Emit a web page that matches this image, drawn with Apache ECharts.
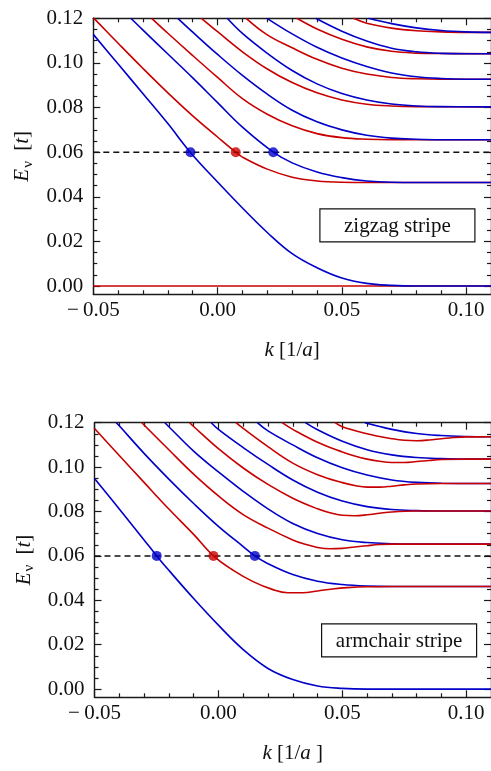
<!DOCTYPE html>
<html><head><meta charset="utf-8">
<script src="https://cdn.jsdelivr.net/npm/echarts@6/dist/echarts.min.js"></script>
<style>html,body{margin:0;padding:0;background:#fff}#c{width:491px;height:771px}</style>
</head><body><div id="c"></div>
<script>
// ---------- axis tick values ----------
const xMajor = [-0.05, 0.00, 0.05, 0.10];
const xMinor = [-0.04, -0.03, -0.02, -0.01, 0.01, 0.02, 0.03, 0.04, 0.06, 0.07, 0.08, 0.09];
const yMajor = [0.00, 0.02, 0.04, 0.06, 0.08, 0.10, 0.12];
const yMinor = [0.005, 0.01, 0.015, 0.025, 0.03, 0.035, 0.045, 0.05, 0.055, 0.065, 0.07, 0.075, 0.085, 0.09, 0.095, 0.105, 0.11, 0.115];
const X_MIN = -0.05, X_MAX = 0.11, Y_MIN = -0.0037, Y_MAX = 0.12;
const refLevel = 0.06;

// ---------- zigzag stripe: [k, E] ----------
const zzB0 = [[-0.05,0.1128],[-0.04,0.0995],[-0.03,0.0862],[-0.02,0.0728],[-0.011,0.0600],[0,0.0466],[0.01,0.0350],[0.02,0.0240],[0.03,0.0145],[0.04,0.0082],[0.05,0.0036],[0.06,0.0012],[0.07,0.0003],[0.08,0],[0.11,0]];
const zzR0 = [[-0.05,0],[0.11,0]];
const zzR1 = [[-0.05,0.1203],[-0.04,0.1088],[-0.03,0.0975],[-0.02,0.0866],[-0.01,0.0763],[0,0.0668],[0.0073,0.0600],[0.01,0.0578],[0.02,0.0524],[0.03,0.0488],[0.04,0.0471],[0.05,0.0465],[0.06,0.0464],[0.11,0.0464]];
const zzB1 = [[-0.0349,0.12],[-0.03,0.1147],[-0.02,0.1040],[-0.01,0.0933],[0,0.0822],[0.01,0.0712],[0.0224,0.0600],[0.03,0.0552],[0.04,0.0511],[0.05,0.0486],[0.06,0.0471],[0.07,0.0465],[0.08,0.0464],[0.11,0.0464]];
const zzR2 = [[-0.0265,0.12],[-0.02,0.1133],[-0.01,0.1033],[0,0.0935],[0.01,0.0840],[0.02,0.0770],[0.03,0.0718],[0.04,0.0683],[0.05,0.0665],[0.06,0.0658],[0.07,0.0656],[0.11,0.0656]];
const zzB2 = [[-0.016,0.12],[-0.01,0.1138],[0,0.1038],[0.01,0.0944],[0.02,0.0860],[0.03,0.0788],[0.04,0.0736],[0.05,0.0700],[0.06,0.0676],[0.07,0.0663],[0.08,0.0658],[0.09,0.0656],[0.11,0.0656]];
const zzR3 = [[-0.0065,0.12],[0,0.1140],[0.01,0.1050],[0.02,0.0973],[0.03,0.0912],[0.04,0.0866],[0.05,0.0834],[0.06,0.0815],[0.07,0.0807],[0.08,0.0804],[0.11,0.0803]];
const zzB3 = [[0.0039,0.12],[0.01,0.1132],[0.02,0.1043],[0.03,0.0966],[0.04,0.0906],[0.05,0.0863],[0.06,0.0834],[0.07,0.0816],[0.08,0.0807],[0.09,0.0804],[0.11,0.0803]];
const zzR4 = [[0.0115,0.12],[0.02,0.1126],[0.03,0.1068],[0.04,0.1016],[0.05,0.0976],[0.06,0.0950],[0.07,0.0935],[0.08,0.0929],[0.09,0.0927],[0.11,0.0927]];
const zzB4 = [[0.0199,0.12],[0.03,0.1130],[0.04,0.1070],[0.05,0.1022],[0.06,0.0984],[0.07,0.0955],[0.08,0.0938],[0.09,0.0930],[0.10,0.0927],[0.11,0.0927]];
const zzR5 = [[0.0319,0.12],[0.04,0.1152],[0.05,0.1106],[0.06,0.1072],[0.07,0.1052],[0.08,0.1044],[0.09,0.1042],[0.11,0.1041]];
const zzB5 = [[0.0395,0.12],[0.05,0.1142],[0.06,0.1098],[0.07,0.1066],[0.08,0.1050],[0.09,0.1043],[0.10,0.1041],[0.11,0.1041]];
const zzR6 = [[0.0547,0.12],[0.06,0.1178],[0.07,0.1156],[0.08,0.1144],[0.09,0.1139],[0.10,0.1137],[0.11,0.1137]];
const zzB6 = [[0.0607,0.12],[0.07,0.1176],[0.08,0.1157],[0.09,0.1145],[0.10,0.1139],[0.11,0.1137]];
const zzDotsBlue = [[-0.0109,0.06],[0.0224,0.06]];
const zzDotsRed = [[0.0073,0.06]];

// ---------- armchair stripe: [k, E] ----------
const acB0 = [[-0.05,0.0949],[-0.04,0.0811],[-0.03,0.0672],[-0.0249,0.0600],[-0.02,0.0535],[-0.01,0.0408],[0,0.0288],[0.01,0.0178],[0.02,0.0093],[0.03,0.0043],[0.04,0.0014],[0.05,0.0003],[0.06,0],[0.11,0]];
const acR1 = [[-0.05,0.1174],[-0.04,0.1052],[-0.03,0.0931],[-0.02,0.0811],[-0.01,0.0697],[-0.002,0.0600],[0.006,0.0535],[0.014,0.0484],[0.022,0.0448],[0.028,0.0434],[0.034,0.0434],[0.04,0.0442],[0.046,0.0451],[0.052,0.0457],[0.06,0.0461],[0.07,0.0462],[0.11,0.0462]];
const acB1 = [[-0.0412,0.12],[-0.04,0.1186],[-0.03,0.1062],[-0.02,0.0946],[-0.01,0.0836],[0,0.0733],[0.01,0.0642],[0.0147,0.0600],[0.02,0.0565],[0.03,0.0516],[0.04,0.0486],[0.05,0.0471],[0.06,0.0464],[0.07,0.0462],[0.11,0.0462]];
const acR2 = [[-0.0309,0.12],[-0.02,0.1078],[-0.01,0.0968],[0,0.0870],[0.01,0.0786],[0.02,0.0725],[0.03,0.0672],[0.035,0.0652],[0.04,0.0638],[0.045,0.0632],[0.05,0.0634],[0.055,0.0640],[0.06,0.0646],[0.065,0.0651],[0.07,0.0653],[0.11,0.0653]];
const acB2 = [[-0.0216,0.12],[-0.02,0.1182],[-0.01,0.1072],[0,0.0978],[0.01,0.0891],[0.02,0.0812],[0.03,0.0746],[0.04,0.0701],[0.05,0.0673],[0.06,0.0660],[0.07,0.0655],[0.08,0.0653],[0.11,0.0653]];
const acR3 = [[-0.0116,0.12],[-0.01,0.1183],[0,0.1083],[0.01,0.0996],[0.02,0.0922],[0.03,0.0860],[0.04,0.0812],[0.045,0.0794],[0.05,0.0783],[0.055,0.0781],[0.06,0.0785],[0.065,0.0792],[0.07,0.0798],[0.08,0.0802],[0.11,0.0802]];
const acB3 = [[-0.0029,0.12],[0,0.1170],[0.01,0.1088],[0.02,0.1012],[0.03,0.0942],[0.04,0.0887],[0.05,0.0847],[0.06,0.0822],[0.07,0.0809],[0.08,0.0804],[0.09,0.0802],[0.11,0.0802]];
const acR4 = [[0.0071,0.12],[0.01,0.1174],[0.02,0.1092],[0.03,0.1018],[0.04,0.0966],[0.05,0.0930],[0.055,0.0917],[0.06,0.0910],[0.065,0.0910],[0.07,0.0914],[0.075,0.0920],[0.08,0.0924],[0.09,0.0926],[0.11,0.0926]];
const acB4 = [[0.0157,0.12],[0.02,0.1163],[0.03,0.1100],[0.04,0.1042],[0.05,0.0997],[0.06,0.0964],[0.07,0.0942],[0.08,0.0931],[0.09,0.0927],[0.11,0.0926]];
const acR5 = [[0.0257,0.12],[0.03,0.1170],[0.04,0.1112],[0.05,0.1068],[0.055,0.1050],[0.06,0.1036],[0.065,0.1026],[0.07,0.1021],[0.075,0.1021],[0.08,0.1025],[0.085,0.1030],[0.09,0.1034],[0.10,0.1036],[0.11,0.1036]];
const acB5 = [[0.0351,0.12],[0.04,0.1168],[0.05,0.1116],[0.06,0.1078],[0.07,0.1055],[0.08,0.1043],[0.09,0.1038],[0.10,0.1036],[0.11,0.1036]];
const acR6 = [[0.0471,0.12],[0.05,0.1182],[0.06,0.1150],[0.065,0.1138],[0.07,0.1128],[0.075,0.1121],[0.08,0.1119],[0.085,0.1122],[0.09,0.1128],[0.095,0.1133],[0.10,0.1136],[0.11,0.1137]];
const acB6 = [[0.0591,0.12],[0.07,0.1170],[0.08,0.1151],[0.09,0.1142],[0.10,0.1138],[0.11,0.1137]];
const acDotsBlue = [[-0.0249,0.06],[0.0147,0.06]];
const acDotsRed = [[-0.002,0.06]];

const panelLabels = ['zigzag stripe', 'armchair stripe'];

// ---------- styling ----------
const FONT = 'Liberation Serif';
const BLUE = '#0000c8', RED = '#c80000', INK = '#1a1a1a';
const FS = 21;

function fmtX(v) {
  const s = Math.abs(v).toFixed(2);
  return v < -1e-9 ? '\u2212\u2009' + s : s;
}
function fmtY(v) { return v.toFixed(2); }

const tickStyle = {color: INK, width: 1.2};
const lineOn = {show: true, onZero: false, lineStyle: {color: INK, width: 1.4}};
const lineOff = {show: false, onZero: false};
function xAxes(g, nameText) {
  const base = {gridIndex: g, type: 'value', min: X_MIN, max: X_MAX, splitLine: {show: false}, axisPointer: {show: false}};
  return [
    Object.assign({}, base, {position: 'bottom', axisLine: lineOn,
      axisTick: {show: true, inside: true, length: 7, customValues: xMajor, lineStyle: tickStyle},
      axisLabel: {show: true, customValues: xMajor, formatter: fmtX, margin: 6, fontFamily: FONT, fontSize: FS, color: '#111'},
      name: nameText, nameLocation: 'middle', nameGap: 46,
      nameTextStyle: {fontFamily: FONT, fontSize: FS, color: '#111', verticalAlign: 'top',
        rich: {i: {fontFamily: FONT, fontSize: FS, fontStyle: 'italic', color: '#111'}}}}),
    Object.assign({}, base, {position: 'bottom', axisLine: lineOff,
      axisTick: {show: true, inside: true, length: 4, customValues: xMinor, lineStyle: tickStyle}, axisLabel: {show: false}}),
    Object.assign({}, base, {position: 'top', axisLine: lineOn,
      axisTick: {show: true, inside: true, length: 7, customValues: xMajor, lineStyle: tickStyle}, axisLabel: {show: false}}),
    Object.assign({}, base, {position: 'top', axisLine: lineOff,
      axisTick: {show: true, inside: true, length: 4, customValues: xMinor, lineStyle: tickStyle}, axisLabel: {show: false}})
  ];
}
function yAxes(g) {
  const base = {gridIndex: g, type: 'value', min: Y_MIN, max: Y_MAX, splitLine: {show: false}, axisPointer: {show: false}};
  return [
    Object.assign({}, base, {position: 'left', axisLine: lineOn,
      axisTick: {show: true, inside: true, length: 7, customValues: yMajor, lineStyle: tickStyle},
      axisLabel: {show: true, customValues: yMajor, formatter: fmtY, margin: 10, fontFamily: FONT, fontSize: FS, color: '#111'},
      name: '{i|E}{s|\u03bd} [{i|t}]', nameLocation: 'middle', nameGap: 58, nameRotate: 90,
      nameTextStyle: {fontFamily: FONT, fontSize: FS, color: '#111',
        rich: {i: {fontFamily: FONT, fontSize: FS, fontStyle: 'italic', color: '#111'},
               s: {fontFamily: FONT, fontSize: 15, color: '#111', padding: [10, 5, 0, 1]}}}}),
    Object.assign({}, base, {position: 'left', axisLine: lineOff,
      axisTick: {show: true, inside: true, length: 4, customValues: yMinor, lineStyle: tickStyle}, axisLabel: {show: false}}),
    Object.assign({}, base, {position: 'right', axisLine: lineOn,
      axisTick: {show: true, inside: true, length: 7, customValues: yMajor, lineStyle: tickStyle}, axisLabel: {show: false}}),
    Object.assign({}, base, {position: 'right', axisLine: lineOff,
      axisTick: {show: true, inside: true, length: 4, customValues: yMinor, lineStyle: tickStyle}, axisLabel: {show: false}})
  ];
}

function line(data, color, ai) {
  return {type: 'line', xAxisIndex: ai, yAxisIndex: ai, data: data, symbol: 'none', showSymbol: false,
    smooth: 0.4, clip: true, silent: true, lineStyle: {color: color, width: 1.6}, z: 2};
}
function dash(ai) {
  return {type: 'line', xAxisIndex: ai, yAxisIndex: ai, data: [[X_MIN, refLevel], [X_MAX, refLevel]],
    symbol: 'none', silent: true, clip: true, lineStyle: {color: '#111', width: 1.5, type: [6, 4]}, z: 3};
}
function dots(data, color, ai) {
  return {type: 'scatter', xAxisIndex: ai, yAxisIndex: ai, data: data, symbol: 'circle', symbolSize: 10,
    silent: true, itemStyle: {color: color}, z: 4};
}

const series = [];
// panel 1 (zigzag): red first, blue on top
[zzR0, zzR1, zzR2, zzR3, zzR4, zzR5, zzR6].forEach(d => series.push(line(d, RED, 0)));
[zzB0, zzB1, zzB2, zzB3, zzB4, zzB5, zzB6].forEach(d => series.push(line(d, BLUE, 0)));
series.push(dash(0), dots(zzDotsBlue, BLUE, 0), dots(zzDotsRed, RED, 0));
// panel 2 (armchair): blue first, red on top
[acB0, acB1, acB2, acB3, acB4, acB5, acB6].forEach(d => series.push(line(d, BLUE, 4)));
[acR1, acR2, acR3, acR4, acR5, acR6].forEach(d => series.push(line(d, RED, 4)));
series.push(dash(4), dots(acDotsBlue, BLUE, 4), dots(acDotsRed, RED, 4));

function labelBox(x, y, w, h, text) {
  return {type: 'group', left: x, top: y, z: 10, children: [
    {type: 'rect', shape: {x: 0, y: 0, width: w, height: h}, style: {fill: '#fff', stroke: '#111', lineWidth: 1.2}},
    {type: 'text', x: w / 2, y: h / 2 + 1, style: {text: text, fontFamily: FONT, fontSize: FS, fill: '#111', align: 'center', verticalAlign: 'middle'}}
  ]};
}

const option = {
  animation: false,
  backgroundColor: '#fff',
  grid: [
    {left: 93.3, top: 18.3, width: 400, height: 276, containLabel: false},
    {left: 94.5, top: 422.7, width: 400, height: 274.6, containLabel: false}
  ],
  xAxis: xAxes(0, '{i|k} [1/{i|a}]').concat(xAxes(1, '{i|k} [1/{i|a} ]')),
  yAxis: yAxes(0).concat(yAxes(1)),
  series: series,
  graphic: [labelBox(319.3, 208.3, 155, 33, panelLabels[0]), labelBox(321, 623.3, 155, 33, panelLabels[1])]
};
const chart = echarts.init(document.getElementById('c'), null, {renderer: 'canvas'});
chart.setOption(option);
</script></body></html>
